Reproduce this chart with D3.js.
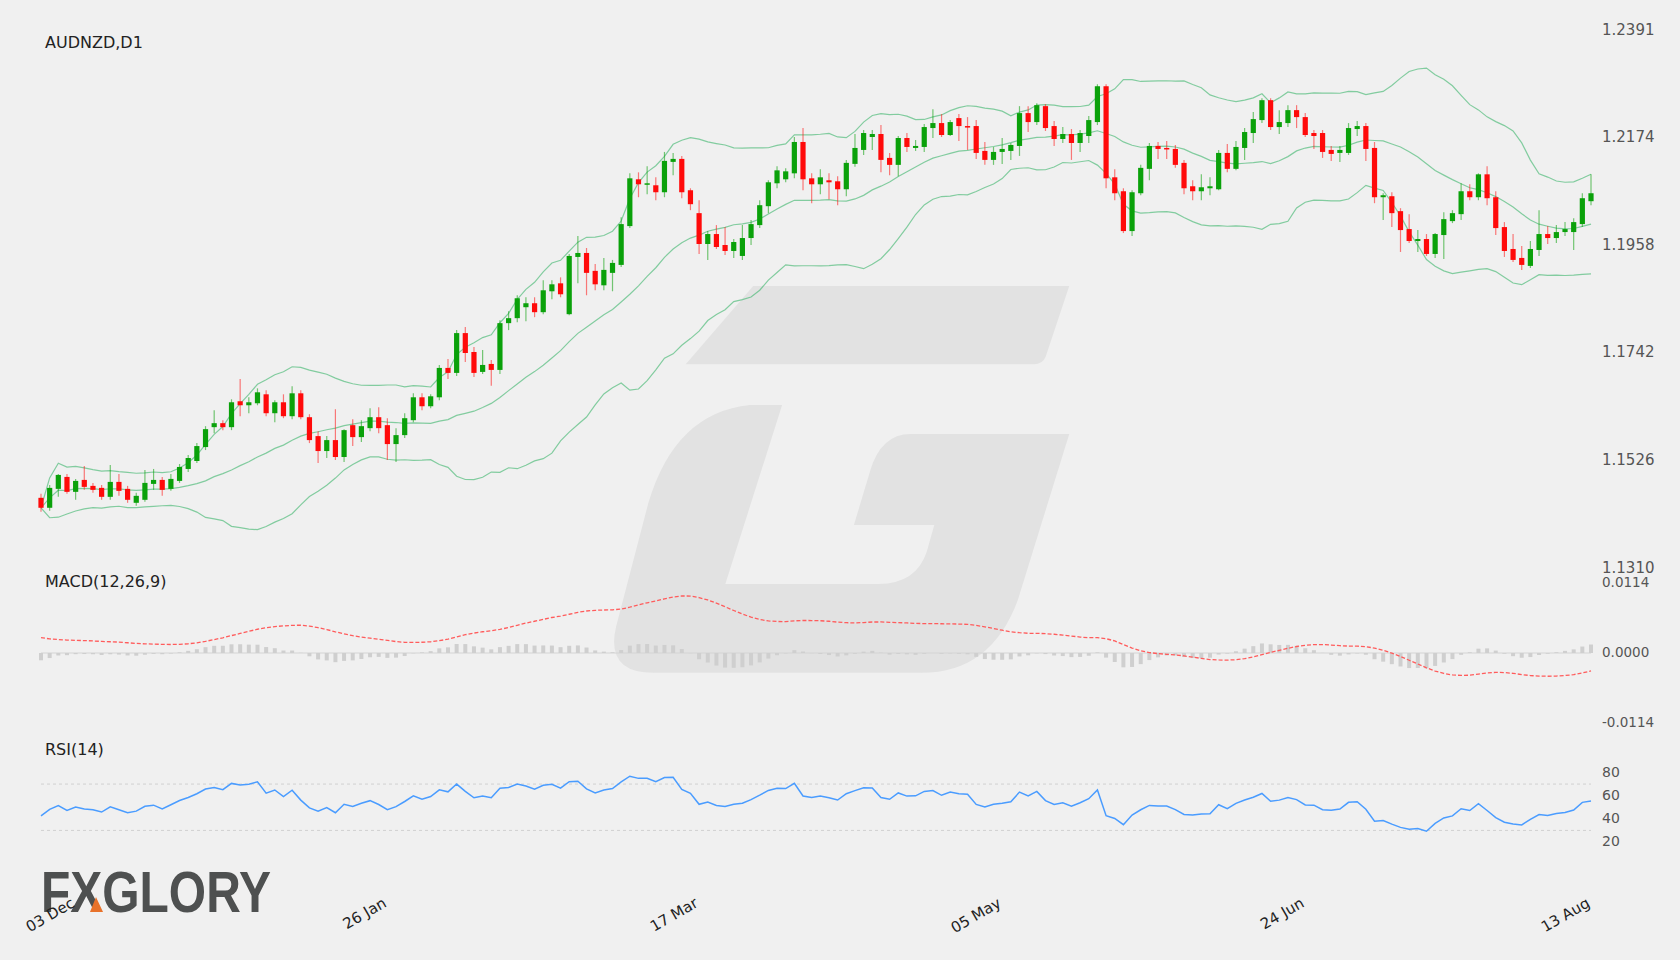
<!DOCTYPE html>
<html><head><meta charset="utf-8">
<script src="https://cdn.jsdelivr.net/npm/d3@7"></script>
<style>html,body{margin:0;padding:0;background:#f0f0f0;}svg{display:block;font-family:"DejaVu Sans",sans-serif;}</style>
</head><body>
<script>
const opens=[1.1451,1.1431,1.1469,1.1493,1.1463,1.1487,1.1475,1.1471,1.1453,1.1483,1.1469,1.1441,1.1447,1.1479,1.1487,1.1469,1.1485,1.1509,1.1525,1.1553,
1.1593,1.1601,1.1593,1.1645,1.1637,1.1641,1.1659,1.1621,1.1643,1.1615,1.1661,1.1613,1.1575,1.1545,1.1567,1.1533,1.1597,1.1573,1.1591,1.1613,
1.1597,1.1559,1.1577,1.1607,1.1653,1.1635,1.1653,1.1712,1.1702,1.1782,1.1744,1.1704,1.1720,1.1708,1.1802,1.1812,1.1834,1.1842,1.1824,1.1866,
1.1882,1.1820,1.1935,1.1943,1.1907,1.1878,1.1903,1.1919,1.1997,1.2091,1.2081,1.2079,1.2065,1.2126,1.2132,1.2069,1.2023,1.1961,1.1981,1.1959,
1.1947,1.1937,1.1973,1.1999,1.2037,1.2083,1.2091,1.2103,1.2166,1.2093,1.2081,1.2089,1.2087,1.2071,1.2122,1.2150,1.2176,1.2182,1.2134,1.2120,
1.2174,1.2154,1.2156,1.2194,1.2204,1.2180,1.2214,1.2198,1.2198,1.2148,1.2130,1.2146,1.2148,1.2158,1.2224,1.2206,1.2238,1.2198,1.2172,1.2182,
1.2164,1.2178,1.2206,1.2278,1.2095,1.2067,1.1987,1.2063,1.2112,1.2158,1.2154,1.2152,1.2124,1.2077,1.2067,1.2073,1.2071,1.2144,1.2112,1.2154,
1.2184,1.2210,1.2250,1.2196,1.2204,1.2230,1.2216,1.2184,1.2184,1.2150,1.2144,1.2144,1.2192,1.2198,1.2154,1.2055,1.2057,1.2027,1.1991,1.1967,
1.1971,1.1941,1.1979,1.2007,1.2021,1.2067,1.2055,1.2101,1.2055,1.1995,1.1951,1.1933,1.1917,1.1949,1.1981,1.1973,1.1985,1.1985,1.2001,1.2047];
const closes=[1.1431,1.1471,1.1497,1.1463,1.1485,1.1473,1.1467,1.1453,1.1483,1.1465,1.1447,1.1455,1.1481,1.1487,1.1467,1.1489,1.1513,1.1531,1.1555,1.1589,
1.1601,1.1593,1.1643,1.1637,1.1643,1.1663,1.1621,1.1643,1.1615,1.1661,1.1613,1.1567,1.1545,1.1567,1.1533,1.1587,1.1573,1.1595,1.1613,1.1591,
1.1559,1.1577,1.1611,1.1653,1.1635,1.1655,1.1712,1.1702,1.1782,1.1742,1.1702,1.1718,1.1708,1.1802,1.1812,1.1852,1.1842,1.1824,1.1868,1.1880,
1.1860,1.1937,1.1943,1.1903,1.1880,1.1909,1.1923,1.2001,1.2093,1.2081,1.2083,1.2065,1.2128,1.2132,1.2065,1.2041,1.1961,1.1981,1.1955,1.1947,
1.1965,1.1973,1.2001,1.2039,1.2085,1.2109,1.2107,1.2166,1.2091,1.2081,1.2095,1.2085,1.2071,1.2124,1.2154,1.2184,1.2182,1.2130,1.2120,1.2174,
1.2156,1.2158,1.2196,1.2204,1.2180,1.2206,1.2198,1.2196,1.2144,1.2130,1.2146,1.2152,1.2160,1.2224,1.2206,1.2240,1.2194,1.2172,1.2182,1.2164,
1.2184,1.2210,1.2278,1.2093,1.2063,1.1987,1.2065,1.2114,1.2158,1.2152,1.2152,1.2120,1.2073,1.2067,1.2075,1.2077,1.2144,1.2112,1.2156,1.2186,
1.2212,1.2250,1.2196,1.2206,1.2230,1.2216,1.2180,1.2178,1.2146,1.2142,1.2150,1.2194,1.2198,1.2152,1.2055,1.2059,1.2023,1.1989,1.1967,1.1971,
1.1941,1.1981,1.2011,1.2023,1.2067,1.2055,1.2101,1.2053,1.1993,1.1947,1.1929,1.1919,1.1951,1.1981,1.1973,1.1985,1.1991,1.2005,1.2053,1.2063];
const highs=[1.1459,1.1477,1.1499,1.1499,1.1489,1.1515,1.1481,1.1477,1.1517,1.1499,1.1475,1.1461,1.1507,1.1509,1.1493,1.1499,1.1519,1.1537,1.1561,1.1595,
1.1627,1.1607,1.1649,1.1690,1.1653,1.1671,1.1667,1.1647,1.1659,1.1675,1.1667,1.1619,1.1585,1.1575,1.1629,1.1589,1.1609,1.1607,1.1631,1.1633,
1.1611,1.1591,1.1621,1.1661,1.1661,1.1659,1.1718,1.1730,1.1788,1.1794,1.1754,1.1748,1.1728,1.1808,1.1826,1.1858,1.1854,1.1854,1.1888,1.1888,
1.1894,1.1941,1.1977,1.1953,1.1921,1.1933,1.1929,1.2015,1.2103,1.2105,1.2117,1.2095,1.2146,1.2144,1.2138,1.2073,1.2049,1.1987,1.1999,1.1995,
1.1971,1.1999,1.2009,1.2049,1.2089,1.2117,1.2113,1.2176,1.2194,1.2103,1.2111,1.2103,1.2097,1.2130,1.2182,1.2190,1.2190,1.2200,1.2144,1.2178,
1.2184,1.2170,1.2202,1.2232,1.2222,1.2210,1.2222,1.2216,1.2210,1.2166,1.2156,1.2174,1.2164,1.2238,1.2238,1.2244,1.2242,1.2208,1.2196,1.2192,
1.2190,1.2218,1.2282,1.2282,1.2111,1.2073,1.2069,1.2120,1.2164,1.2166,1.2168,1.2160,1.2130,1.2089,1.2101,1.2095,1.2150,1.2162,1.2168,1.2194,
1.2226,1.2254,1.2254,1.2230,1.2240,1.2240,1.2224,1.2190,1.2190,1.2158,1.2158,1.2204,1.2208,1.2204,1.2166,1.2063,1.2065,1.2033,1.2021,1.1989,
1.1981,1.1983,1.2025,1.2029,1.2083,1.2081,1.2103,1.2117,1.2067,1.2005,1.1981,1.1957,1.1967,1.2029,1.1997,1.1999,1.2005,1.2013,1.2063,1.2101];
const lows=[1.1423,1.1425,1.1453,1.1459,1.1447,1.1467,1.1461,1.1447,1.1447,1.1455,1.1441,1.1435,1.1443,1.1467,1.1455,1.1465,1.1481,1.1503,1.1521,1.1547,
1.1581,1.1587,1.1587,1.1615,1.1621,1.1637,1.1615,1.1603,1.1611,1.1609,1.1609,1.1561,1.1521,1.1531,1.1527,1.1523,1.1555,1.1563,1.1585,1.1581,
1.1527,1.1523,1.1571,1.1603,1.1627,1.1631,1.1647,1.1690,1.1696,1.1724,1.1694,1.1700,1.1676,1.1700,1.1788,1.1804,1.1806,1.1814,1.1820,1.1850,
1.1854,1.1818,1.1882,1.1858,1.1868,1.1868,1.1866,1.1915,1.1993,1.2055,1.2061,1.2049,1.2055,1.2099,1.2053,1.2029,1.1941,1.1929,1.1951,1.1939,
1.1933,1.1929,1.1959,1.1993,1.2023,1.2073,1.2085,1.2093,1.2069,1.2043,1.2061,1.2051,1.2039,1.2057,1.2116,1.2140,1.2150,1.2105,1.2099,1.2097,
1.2146,1.2148,1.2146,1.2174,1.2176,1.2178,1.2168,1.2150,1.2132,1.2120,1.2120,1.2122,1.2130,1.2138,1.2186,1.2200,1.2188,1.2158,1.2164,1.2130,
1.2146,1.2164,1.2200,1.2073,1.2049,1.1983,1.1977,1.2059,1.2089,1.2132,1.2132,1.2114,1.2061,1.2049,1.2049,1.2059,1.2069,1.2105,1.2109,1.2130,
1.2164,1.2204,1.2190,1.2182,1.2196,1.2194,1.2176,1.2152,1.2134,1.2128,1.2126,1.2140,1.2178,1.2128,1.2043,1.2009,1.1995,1.1945,1.1963,1.1945,
1.1937,1.1933,1.1931,1.2003,1.2009,1.2049,1.2049,1.2039,1.1979,1.1935,1.1925,1.1909,1.1913,1.1937,1.1961,1.1963,1.1977,1.1949,1.1995,1.2039];
const priceTicks=[1.2391,1.2174,1.1958,1.1742,1.1526,1.1310];
const macdTicks=[0.0114,0,-0.0114];
const rsiTicks=[80,60,40,20];
const dateLabels=["03 Dec","26 Jan","17 Mar","05 May","24 Jun","13 Aug"];
const dateIdx=[4,40,76,111,146,179];
// indicator seeds (state before first bar)
const emaSeed={fast:1.1440,slow:1.1425,signal:0.0028};
const rsiSeed={gain:0.0013,loss:0.0016};

const W=1680,H=960,N=closes.length;
const svg=d3.select("body").append("svg").attr("width",W).attr("height",H);
svg.append("rect").attr("width",W).attr("height",H).attr("fill","#f0f0f0");

// watermark
const wm=svg.append("g").attr("transform","scale(1.0714)").attr("fill","#e2e2e2");
wm.append("path").attr("d","M703 267 L998 267 L976 333 Q973 340 965 340 L640 340 Z");
wm.append("path").attr("d","M730 378 L677 545 L820 545 Q855 545 865 515 L872 490 L797 490 L812 440 Q822 405 850 405 L998 405 L950 560 Q925 628 860 628 L610 628 Q565 628 575 585 L605 470 Q630 385 700 378 Z");

const x=d3.scaleLinear().domain([0,N-1]).range([41,1591]);
const y=d3.scaleLinear().domain([1.1310,1.2391]).range([568,30]);
const ym=d3.scaleLinear().domain([-0.0114,0.0114]).range([723,583]);
const yr=d3.scaleLinear().domain([20,80]).range([842,772.5]);

// Bollinger
const bb=closes.map((c,i)=>{const w=closes.slice(Math.max(0,i-19),i+1);const m=d3.mean(w);const s=Math.sqrt(d3.mean(w.map(v=>(v-m)*(v-m))));return {m,u:m+2*s,l:m-2*s};});
const bcol="rgba(70,185,115,0.65)";
["u","m","l"].forEach(k=>svg.append("path").datum(bb).attr("fill","none").attr("stroke",bcol).attr("stroke-width",1.2)
 .attr("d",d3.line().x((d,i)=>x(i)).y(d=>y(d[k]))));

// candles
const g=svg.append("g");
closes.forEach((c,i)=>{const o=opens[i],up=c>=o,col=up?"#0aa10a":"#ff0a0a";
 g.append("line").attr("x1",x(i)).attr("x2",x(i)).attr("y1",y(highs[i])).attr("y2",y(lows[i])).attr("stroke",up?"rgba(10,160,10,0.55)":"rgba(255,20,20,0.55)").attr("stroke-width",1.2);
 const t=y(Math.max(o,c)),b=y(Math.min(o,c));
 g.append("rect").attr("x",x(i)-2.6).attr("width",5.2).attr("y",t).attr("height",Math.max(1.5,b-t)).attr("fill",col);
});

// MACD: grey histogram = MACD - signal, red dashed = signal
let e12=emaSeed.fast,e26=emaSeed.slow,sig=emaSeed.signal;const sigs=[],hist=[];
closes.forEach(c=>{e12+=(c-e12)*2/13;e26+=(c-e26)*2/27;const m=e12-e26;sig+=(m-sig)*2/10;sigs.push(sig);hist.push(m-sig);});
svg.append("line").attr("x1",41).attr("x2",1591).attr("y1",ym(0)).attr("y2",ym(0)).attr("stroke","#d4d4d4");
svg.append("g").selectAll("rect").data(hist).join("rect").attr("x",(d,i)=>x(i)-2).attr("width",4)
 .attr("y",d=>Math.min(ym(0),ym(d))).attr("height",d=>Math.abs(ym(d)-ym(0))).attr("fill","#cfcfcf");
svg.append("path").datum(sigs).attr("fill","none").attr("stroke","#ff5c5c").attr("stroke-width",1.3).attr("stroke-dasharray","4,2")
 .attr("d",d3.line().x((d,i)=>x(i)).y(d=>ym(d)));

// RSI
let ag=rsiSeed.gain,al=rsiSeed.loss;const rsi=[];
closes.forEach((c,i)=>{const p=i?closes[i-1]:opens[0];const ch=c-p;ag=(ag*13+Math.max(ch,0))/14;al=(al*13+Math.max(-ch,0))/14;rsi.push(100-100/(1+ag/al));});
[70,30].forEach(v=>svg.append("line").attr("x1",41).attr("x2",1591).attr("y1",yr(v)).attr("y2",yr(v)).attr("stroke","#d0d0d0").attr("stroke-dasharray","3,3"));
svg.append("path").datum(rsi).attr("fill","none").attr("stroke","#4a9cff").attr("stroke-width",1.5)
 .attr("d",d3.line().x((d,i)=>x(i)).y(d=>yr(d)));

// axis labels
const lab=(t,xx,yy,fs)=>svg.append("text").attr("x",xx).attr("y",yy).attr("font-size",fs).attr("fill","#555").attr("dominant-baseline","middle").text(t);
priceTicks.forEach(v=>lab(v.toFixed(4),1602,y(v),15));
macdTicks.forEach(v=>lab(v.toFixed(4),1602,ym(v),13.5));
rsiTicks.forEach(v=>lab(v,1602,yr(v),14));

svg.append("text").attr("x",45).attr("y",48).attr("font-size",16).attr("fill","#222").text("AUDNZD,D1");
svg.append("text").attr("x",45).attr("y",587).attr("font-size",16).attr("fill","#222").text("MACD(12,26,9)");
svg.append("text").attr("x",45).attr("y",755).attr("font-size",16).attr("fill","#222").text("RSI(14)");

// logo
svg.append("text").attr("x",41).attr("y",912).attr("font-size",58).attr("font-weight","bold").attr("font-family","'Liberation Sans',sans-serif")
 .attr("fill","#4e5050").attr("textLength",230).attr("lengthAdjust","spacingAndGlyphs").text("FXGLORY");
svg.append("path").attr("d","M96 897 L103 912 L90 912 Z").attr("fill","#e8722a");

// dates
dateLabels.forEach((t,k)=>svg.append("text").attr("transform",`translate(${x(dateIdx[k])},906) rotate(-30)`)
 .attr("text-anchor","end").attr("font-size",15).attr("fill","#222").text(t));
</script>
</body></html>
